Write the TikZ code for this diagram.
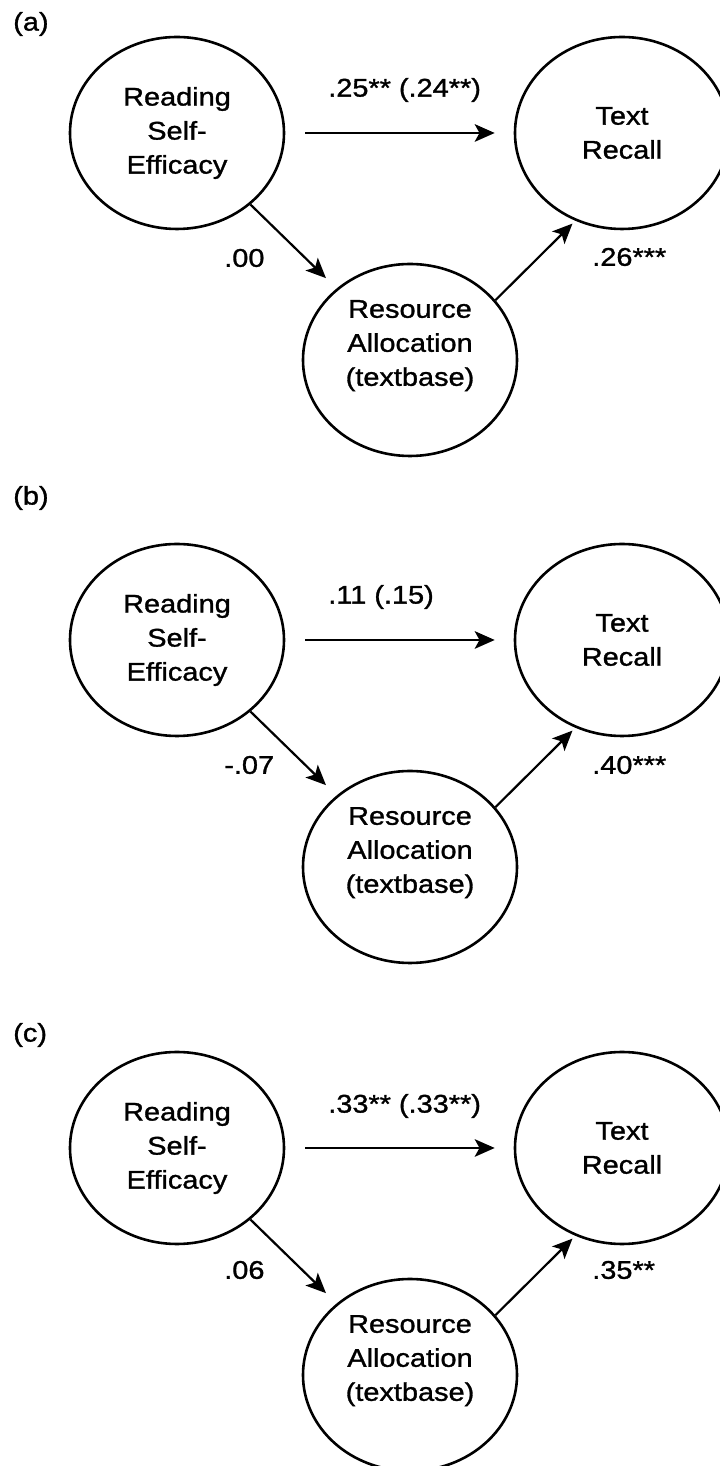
\documentclass[tikz,border=0pt]{standalone}
\usepackage{fontspec}
\setmainfont{Liberation Sans}[FakeStretch=1.13, FakeBold=1.2]
\usetikzlibrary{shapes.geometric,arrows.meta}

\begin{document}
\begin{tikzpicture}[every node/.style={align=center, font=\fontsize{18.2}{24.2}\selectfont},
	var/.style={draw, ellipse, line width=0.065cm, inner sep=0pt, minimum width=5.35cm, minimum height=4.8cm},
	arr/.style={-{Stealth[length=0.5cm, width=0.44cm, inset=0.12cm]}, line width=0.055cm},
	coef/.style={anchor=west, inner sep=0pt}]
\useasboundingbox (0,0) rectangle (17.975,36.65);
%================================================================
%	Panel (a)
\node[coef] (pa) at (0.325,36.05) {(a)};
\node[var] (a1) at (4.425,33.325) {Reading\\Self-\\Efficacy};
\node[var] (a2) at (15.55,33.325) {Text\\Recall};
\node[var] (a3) at (10.25,27.65) {Resource\\Allocation\\(textbase)\\ \mbox{}};
%----------------------------------------------------------------
\draw[arr, shorten <=0.5cm, shorten >=0.475cm] (a1) -- (a2);
\draw[arr, shorten >=0.37cm] (a1) -- (a3);
\draw[arr, shorten >=0.1cm] (a3.35) -- (a2.242);
%----------------------------------------------------------------
\node[coef] (a4) at (8.2,34.4) {.25** (.24**)};
\node[coef] (a5) at (5.6,30.2) {.00};
\node[coef] (a6) at (14.8,30.225) {.26***};
%================================================================
%	Panel (b)
\node[coef] (pb) at (0.325,24.2) {(b)};
\node[var] (b1) at (4.425,20.65) {Reading\\Self-\\Efficacy};
\node[var] (b2) at (15.55,20.65) {Text\\Recall};
\node[var] (b3) at (10.25,14.975) {Resource\\Allocation\\(textbase)\\ \mbox{}};
%----------------------------------------------------------------
\draw[arr, shorten <=0.5cm, shorten >=0.475cm] (b1) -- (b2);
\draw[arr, shorten >=0.37cm] (b1) -- (b3);
\draw[arr, shorten >=0.1cm] (b3.35) -- (b2.242);
%----------------------------------------------------------------
\node[coef] (b4) at (8.2,21.725) {.11 (.15)};
\node[coef] (b5) at (5.6,17.525) {-.07};
\node[coef] (b6) at (14.8,17.525) {.40***};
%================================================================
%	Panel (c)
\node[coef] (pc) at (0.325,10.775) {(c)};
\node[var] (c1) at (4.425,7.95) {Reading\\Self-\\Efficacy};
\node[var] (c2) at (15.55,7.95) {Text\\Recall};
\node[var] (c3) at (10.25,2.275) {Resource\\Allocation\\(textbase)\\ \mbox{}};
%----------------------------------------------------------------
\draw[arr, shorten <=0.5cm, shorten >=0.475cm] (c1) -- (c2);
\draw[arr, shorten >=0.37cm] (c1) -- (c3);
\draw[arr, shorten >=0.1cm] (c3.35) -- (c2.242);
%----------------------------------------------------------------
\node[coef] (c4) at (8.2,9.0) {.33** (.33**)};
\node[coef] (c5) at (5.6,4.9) {.06};
\node[coef] (c6) at (14.8,4.9) {.35**};
%================================================================
\end{tikzpicture}
\end{document}
